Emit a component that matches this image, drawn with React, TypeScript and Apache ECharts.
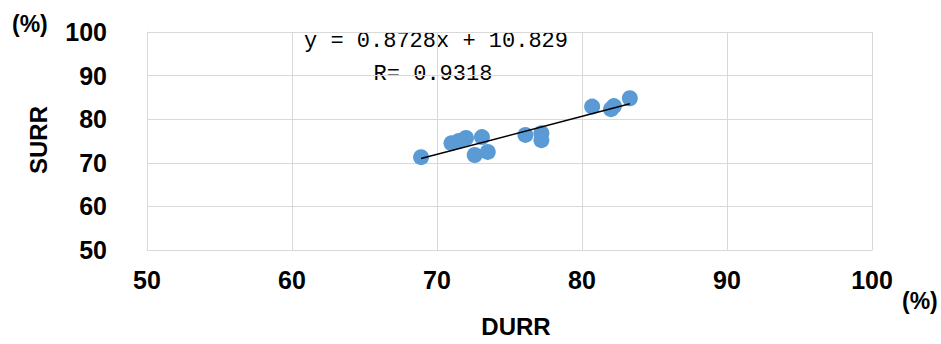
import React, { useEffect, useRef } from "react";
import * as echarts from "echarts";

const durr: number[] = [68.9, 71.0, 71.5, 72.0, 73.1, 72.6, 73.5, 76.1, 77.2, 77.2, 80.7, 82.2, 82.0, 83.3];
const surr: number[] = [71.3, 74.5, 75.0, 75.7, 75.9, 71.8, 72.5, 76.4, 76.8, 75.2, 82.9, 83.0, 82.3, 84.8];
const slope = 0.8728;
const intercept = 10.829;
const rValue = 0.9318;
const xTicks = [50, 60, 70, 80, 90, 100];
const yTicks = [50, 60, 70, 80, 90, 100];

const FAM = "'Liberation Sans', Arial, sans-serif";

export default function App() {
  const ref = useRef<HTMLDivElement>(null);
  useEffect(() => {
    if (!ref.current) return;
    const chart = echarts.init(ref.current, null, { renderer: "svg" });
    const pts = durr.map((x, i) => [x, surr[i]]);
    const xMin = Math.min(...durr);
    const xMax = Math.max(...durr);
    const trend = [
      [xMin, slope * xMin + intercept],
      [xMax, slope * xMax + intercept],
    ];
    const labelFont = {
      fontFamily: FAM,
      fontWeight: "bold" as const,
      fontSize: 25,
      color: "#000",
    };
    chart.setOption({
      animation: false,
      grid: { left: 147, right: 69, top: 32, bottom: 94 },
      xAxis: {
        type: "value",
        min: xTicks[0],
        max: xTicks[xTicks.length - 1],
        interval: 10,
        axisLine: { show: true, lineStyle: { color: "#d9d9d9", width: 1 } },
        axisTick: { show: false },
        splitLine: { show: true, lineStyle: { color: "#d9d9d9", width: 1 } },
        axisLabel: { ...labelFont, margin: 17 },
      },
      yAxis: {
        type: "value",
        min: yTicks[0],
        max: yTicks[yTicks.length - 1],
        interval: 10,
        axisLine: { show: true, lineStyle: { color: "#d9d9d9", width: 1 } },
        axisTick: { show: false },
        splitLine: { show: true, lineStyle: { color: "#d9d9d9", width: 1 } },
        axisLabel: { ...labelFont, margin: 40 },
      },
      series: [
        {
          type: "scatter",
          data: pts,
          symbolSize: 16,
          itemStyle: { color: "#5b9bd5", opacity: 1 },
          z: 2,
        },
        {
          type: "line",
          data: trend,
          showSymbol: false,
          symbol: "none",
          lineStyle: { color: "#000", width: 1.5 },
          z: 3,
        },
      ],
      graphic: [
        {
          type: "text",
          left: 12,
          top: 12,
          style: { text: "(%)", font: `bold 23px ${FAM}`, fill: "#000" },
        },
        {
          type: "text",
          left: 902,
          top: 289,
          style: { text: "(%)", font: `bold 23px ${FAM}`, fill: "#000" },
        },
        {
          type: "text",
          x: 516,
          y: 326,
          style: {
            text: "DURR",
            font: `bold 24px ${FAM}`,
            fill: "#000",
            align: "center",
            verticalAlign: "middle",
          },
        },
        {
          type: "text",
          x: 38,
          y: 140,
          rotation: Math.PI / 2,
          style: {
            text: "SURR",
            font: `bold 24px ${FAM}`,
            fill: "#000",
            align: "center",
            verticalAlign: "middle",
          },
        },
        {
          type: "text",
          x: 436,
          y: 41,
          style: {
            text: `y = ${slope}x + ${intercept}`,
            font: "22px 'Liberation Mono', monospace",
            fill: "#000",
            align: "center",
            verticalAlign: "middle",
          },
        },
        {
          type: "text",
          x: 433,
          y: 74,
          style: {
            text: `R= ${rValue}`,
            font: "22px 'Liberation Mono', monospace",
            fill: "#000",
            align: "center",
            verticalAlign: "middle",
          },
        },
      ],
    });
    return () => chart.dispose();
  }, []);
  return <div ref={ref} style={{ width: 941, height: 344, position: "absolute", left: 0, top: 0 }} />;
}
